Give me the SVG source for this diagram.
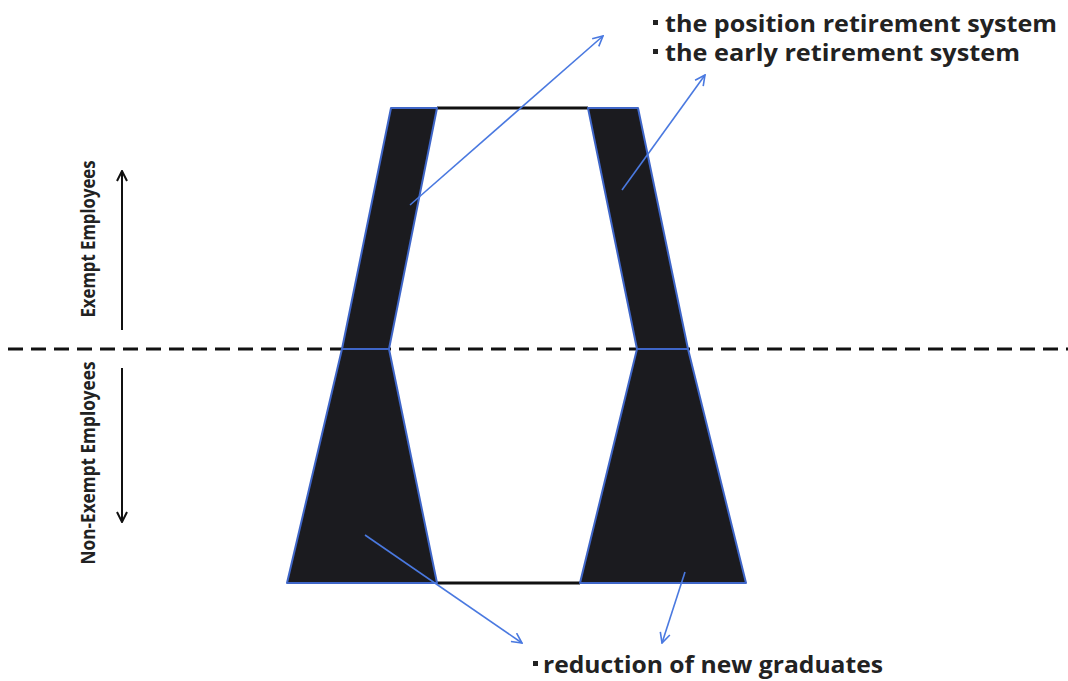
<svg xmlns="http://www.w3.org/2000/svg" width="1068" height="681" viewBox="0 0 1068 681">
<style>
.band{fill:#1b1b1f;stroke:#3f66c8;stroke-width:2;stroke-linejoin:round}
.edge{stroke:#111;stroke-width:3;fill:none}
.blue{stroke:#4a79e0;stroke-width:1.6;fill:none;marker-end:url(#ba)}
.blk{stroke:#111;stroke-width:2;fill:none}
.lbl{font-family:"Open Sans","Liberation Sans",sans-serif;font-weight:bold;fill:#222}
</style>
<defs>
<marker id="ba" viewBox="0 0 12 12" refX="11" refY="6" markerWidth="12" markerHeight="12" markerUnits="userSpaceOnUse" orient="auto">
<path d="M1,1 L11,6 L1,11" fill="none" stroke="#4a79e0" stroke-width="1.6"/>
</marker>
<marker id="ka" viewBox="0 0 12 12" refX="11" refY="6" markerWidth="12" markerHeight="12" markerUnits="userSpaceOnUse" orient="auto">
<path d="M1,1 L11,6 L1,11" fill="none" stroke="#111" stroke-width="2"/>
</marker>
</defs>
<rect width="1068" height="681" fill="#fff"/>
<g id="divider"><line x1="8" y1="349" x2="1068" y2="349" stroke="#111" stroke-width="3" stroke-dasharray="15,8"/></g>
<g id="outline">
<line class="edge" x1="437" y1="108" x2="588" y2="108"/>
<line class="edge" x1="437" y1="583" x2="580" y2="583"/>
</g>
<g id="left-top"><polygon class="band" points="391,108 437,108 389,349 342,349"/></g>
<g id="right-top"><polygon class="band" points="588,108 638,108 688,349 637,349"/></g>
<g id="left-bottom"><polygon class="band" points="342,349 389,349 437,583 287,583"/></g>
<g id="right-bottom"><polygon class="band" points="637,349 688,349 746,583 580,583"/></g>
<g id="connectors">
<line class="blue" x1="410" y1="205" x2="603" y2="36"/>
<line class="blue" x1="622" y1="190" x2="705" y2="75"/>
<line class="blue" x1="365" y1="535" x2="522" y2="643"/>
<line class="blue" x1="685" y1="572" x2="662" y2="643"/>
<line class="blk" x1="122" y1="330" x2="122" y2="171" marker-end="url(#ka)"/>
<line class="blk" x1="122" y1="368" x2="122" y2="522" marker-end="url(#ka)"/>
</g>
<g id="label-exempt"><text class="lbl" font-size="20" transform="translate(95,239) rotate(-90)" text-anchor="middle" textLength="157" lengthAdjust="spacingAndGlyphs">Exempt Employees</text></g>
<g id="label-nonexempt"><text class="lbl" font-size="20" transform="translate(95,463) rotate(-90)" text-anchor="middle" textLength="203" lengthAdjust="spacingAndGlyphs">Non-Exempt Employees</text></g>
<g id="label-top">
<rect x="653" y="20" width="5" height="5" fill="#222"/>
<text class="lbl" font-size="23" x="665" y="32" textLength="392" lengthAdjust="spacingAndGlyphs">the position retirement system</text>
<rect x="653" y="49" width="5" height="5" fill="#222"/>
<text class="lbl" font-size="23" x="665" y="61" textLength="355" lengthAdjust="spacingAndGlyphs">the early retirement system</text>
</g>
<g id="label-bottom">
<rect x="533" y="661" width="5" height="5" fill="#222"/>
<text class="lbl" font-size="23" x="543" y="673" textLength="340" lengthAdjust="spacingAndGlyphs">reduction of new graduates</text>
</g>
</svg>
